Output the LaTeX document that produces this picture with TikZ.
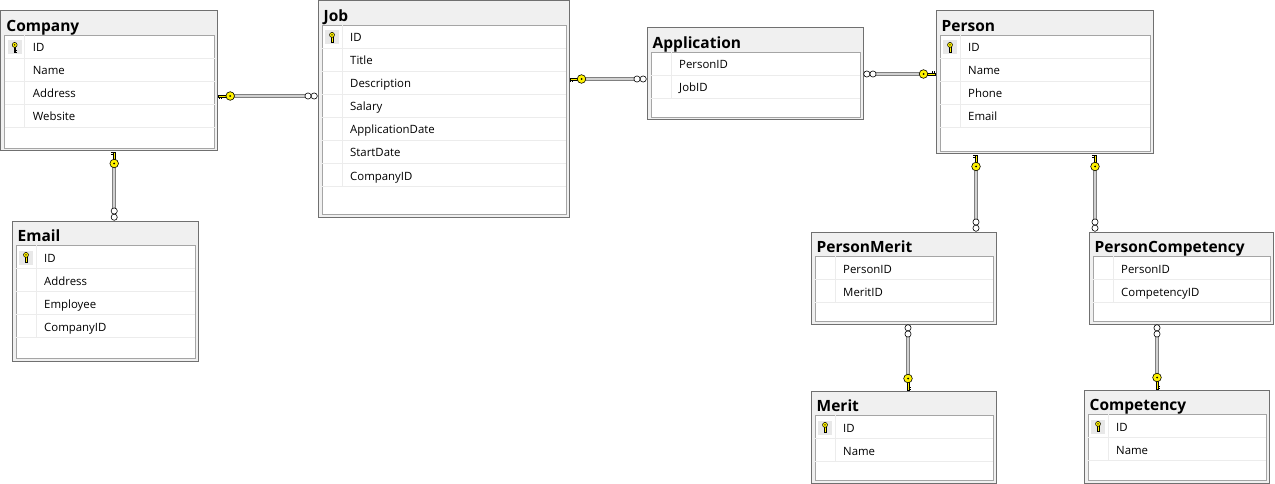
\documentclass[tikz,border=0pt]{standalone}
\usepackage{fontspec}
\setmainfont{Open Sans}
\usepackage{tikz}
\usetikzlibrary{positioning, calc}
\definecolor{keyyellow}{RGB}{255,242,0}
\definecolor{boxgray}{RGB}{112,112,112}
\definecolor{innergray}{RGB}{165,165,165}
\definecolor{titlegray}{RGB}{240,240,240}
\definecolor{rowgray}{RGB}{236,236,236}
\tikzstyle{tablebox}=[%
      rectangle, anchor=north west, draw=boxgray, line width=1pt, fill=titlegray,
      inner sep=0pt, outer sep=0pt
]
\tikzstyle{tableinner}=[%
      rectangle, anchor=north west, draw=innergray, line width=0.9pt, fill=white,
      inner sep=0pt, outer sep=0pt
]
\tikzstyle{tabletitle}=[anchor=base west, inner sep=0pt, font=\fontsize{15.5}{16}\selectfont\bfseries]
\tikzstyle{colname}=[anchor=base west, inner sep=0pt, font=\fontsize{11.4}{12}\selectfont]
\tikzstyle{rowline}=[draw=rowgray, line width=0.9pt]
\tikzstyle{rel}=[draw=black!50, line width=0.9pt, double=black!18, double distance=1.8pt,
      shorten <=12pt, shorten >=12pt]
\tikzstyle{keyline}=[draw=black, line width=0.6pt]
\tikzset{
  fkkey/.pic={
    \draw[keyline, fill=keyyellow] (1pt,-1pt) rectangle (8.5pt,1pt);
    \draw[keyline] (1.5pt,-1pt) -- (1.5pt,-3pt) (3.5pt,-1pt) -- (3.5pt,-3pt);
    \draw[keyline, fill=keyyellow] (12.5pt,0pt) circle (4.3pt);
    \fill (12.5pt,0pt) circle (1pt);
  },
  fkmany/.pic={
    \draw[keyline, fill=white] (3.8pt,0pt) circle (3.1pt) (10pt,0pt) circle (3.1pt);
  },
  idkey/.pic={
    \fill[black!9] (-7pt,-7pt) rectangle (7pt,7pt);
    \draw[keyline, line width=0.5pt, fill=keyyellow] (-0.9pt,1pt) rectangle (0.9pt,-5pt);
    \draw[keyline, line width=0.5pt] (0.9pt,-2.8pt) -- (2.3pt,-2.8pt) (0.9pt,-4.5pt) -- (2.3pt,-4.5pt);
    \draw[keyline, line width=0.5pt, fill=keyyellow] (0pt,2.6pt) circle (2.5pt);
    \fill (0pt,2.6pt) circle (0.7pt);
  }
}
\newcommand{\dbtable}[6]{%
  \node[tablebox, minimum width=#3pt, minimum height=#4pt] (#1) at (#2) {};
  \node[tabletitle] (#1-title) at ($(#1.north west)+(5.5,20.5)$) {#5};
  \node[tableinner, minimum width=#3pt-7pt, minimum height=#4pt-27pt] (#1-inner)
       at ($(#1.north west)+(4,24)$) {};
  \foreach \cname [count=\i] in {#6} {
    \draw[rowline] ($(#1-inner.north west)+(0,23*\i)$) -- ($(#1-inner.north east)+(0,23*\i)$);
    \node[colname] at ($(#1-inner.north west)+(28,23*\i-6)$) {\cname};
    \xdef\ncols{\i}
  }
  \draw[rowline] ($(#1-inner.north west)+(20,0)$) -- ($(#1-inner.north west)+(20,23*\ncols)$);
}

\begin{document}
\begin{tikzpicture}[x=1pt, y=-1pt]
    \useasboundingbox (0,0) rectangle (1275,484);

    \dbtable{company}{0.7,11}{217}{140}{Company}{ID, Name, Address, Website}
    \dbtable{email}{12,221}{186}{140}{Email}{ID, Address, Employee, CompanyID}
    \dbtable{job}{318,1}{251}{216}{Job}{ID, Title, Description, Salary, ApplicationDate, StartDate, CompanyID}
    \dbtable{application}{647,28}{216}{92}{Application}{PersonID, JobID}
    \dbtable{person}{936,11}{217}{143}{Person}{ID, Name, Phone, Email}
    \dbtable{personmerit}{811,232}{185}{92}{PersonMerit}{PersonID, MeritID}
    \dbtable{personcompetency}{1089,232}{184}{92}{PersonCompetency}{PersonID, CompetencyID}
    \dbtable{merit}{811,391}{185}{92}{Merit}{ID, Name}
    \dbtable{competency}{1084,390}{185}{93}{Competency}{ID, Name}

    \foreach \t in {company, email, job, person, merit, competency}
      \pic at ($(\t-inner.north west)+(10,12.5)$) {idkey};

    \draw[rel] ($(company.east)+(0,15)$) coordinate (cj1)
           -- ($(company.east -| job.west)+(0,15)$) coordinate (cj2);
    \pic at (cj1) {fkkey};
    \pic[rotate=180] at (cj2) {fkmany};

    \draw[rel] ($(application.west -| job.east)+(0,5)$) coordinate (ja1)
           -- ($(application.west)+(0,5)$) coordinate (ja2);
    \pic at (ja1) {fkkey};
    \pic[rotate=180] at (ja2) {fkmany};

    \draw[rel] (application.east) coordinate (ap1)
           -- (application.east -| person.west) coordinate (ap2);
    \pic at (ap1) {fkmany};
    \pic[rotate=180] at (ap2) {fkkey};

    \draw[rel] ($(company.south)+(5,0)$) coordinate (ce1)
           -- ($(company.south |- email.north)+(5,0)$) coordinate (ce2);
    \pic[rotate=-90] at (ce1) {fkkey};
    \pic[rotate=90] at (ce2) {fkmany};

    \draw[rel] ($(person.south west)+(40,0)$) coordinate (pm1)
           -- ($(person.south west |- personmerit.north)+(40,0)$) coordinate (pm2);
    \pic[rotate=-90] at (pm1) {fkkey};
    \pic[rotate=90] at (pm2) {fkmany};

    \draw[rel] ($(person.south west)+(159,0)$) coordinate (pc1)
           -- ($(person.south west |- personcompetency.north)+(159,0)$) coordinate (pc2);
    \pic[rotate=-90] at (pc1) {fkkey};
    \pic[rotate=90] at (pc2) {fkmany};

    \draw[rel] ($(personmerit.south west)+(97,0)$) coordinate (mm1)
           -- ($(personmerit.south west |- merit.north)+(97,0)$) coordinate (mm2);
    \pic[rotate=-90] at (mm1) {fkmany};
    \pic[rotate=90] at (mm2) {fkkey};

    \draw[rel] ($(personcompetency.south west)+(68,0)$) coordinate (cc1)
           -- ($(personcompetency.south west |- competency.north)+(68,0)$) coordinate (cc2);
    \pic[rotate=-90] at (cc1) {fkmany};
    \pic[rotate=90] at (cc2) {fkkey};
\end{tikzpicture}
\end{document}
